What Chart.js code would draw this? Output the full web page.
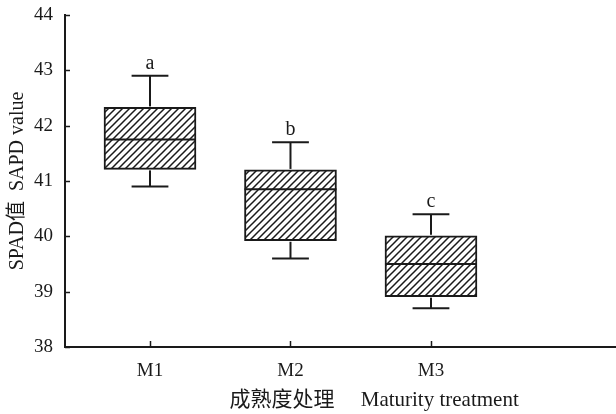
<!DOCTYPE html>
<html><head><meta charset="utf-8">
<script src="https://cdn.jsdelivr.net/npm/chart.js@4/dist/chart.umd.min.js"></script>
<style>html,body{margin:0;padding:0;background:#fff}#wrap{width:616px;height:414px;position:relative}</style>
</head><body><div id="wrap"><canvas id="c" width="616" height="414"></canvas></div>
<script>
const categories = ['M1', 'M2', 'M3'];
const whiskerMin = [40.9, 39.6, 38.7];
const q1 = [41.21, 39.92, 38.91];
const median = [41.75, 40.85, 39.5];
const q3 = [42.33, 41.2, 40.01];
const whiskerMax = [42.9, 41.7, 40.4];
const letters = ['a', 'b', 'c'];
const yTitle = 'SPAD值  SAPD value';
const xTitle = '成熟度处理\u3000 Maturity treatment';

const FONT = "'Liberation Serif', 'Noto Sans CJK SC', serif";
const INK = '#1a1a1a';

function hatch() {
  const s = 7;
  const c = document.createElement('canvas');
  c.width = s; c.height = s;
  const g = c.getContext('2d');
  g.fillStyle = '#fff'; g.fillRect(0, 0, s, s);
  g.strokeStyle = INK; g.lineWidth = 1.5;
  g.beginPath();
  g.moveTo(-1, s + 1); g.lineTo(s + 1, -1);
  g.moveTo(-1 - s, s + 1); g.lineTo(1, -1);
  g.moveTo(s - 1, s + 1); g.lineTo(2 * s + 1, -1);
  g.stroke();
  return g.createPattern(c, 'repeat');
}

const boxPlugin = {
  id: 'boxExtras',
  afterDatasetsDraw(chart) {
    const { ctx, scales: { x, y }, chartArea } = chart;
    const meta = chart.getDatasetMeta(0);
    ctx.save();
    ctx.strokeStyle = INK; ctx.lineWidth = 2; ctx.lineCap = 'butt';
    categories.forEach((c, i) => {
      const cx = x.getPixelForValue(i);
      const half = meta.data[i].width / 2;
      const cap = half * 0.4;
      const line = (x1, y1, x2, y2) => { ctx.beginPath(); ctx.moveTo(x1, y1); ctx.lineTo(x2, y2); ctx.stroke(); };
      line(cx - half, y.getPixelForValue(median[i]), cx + half, y.getPixelForValue(median[i]));
      line(cx, y.getPixelForValue(q3[i]) - 1, cx, y.getPixelForValue(whiskerMax[i]));
      line(cx, y.getPixelForValue(q1[i]) + 1, cx, y.getPixelForValue(whiskerMin[i]));
      line(cx - cap, y.getPixelForValue(whiskerMax[i]), cx + cap, y.getPixelForValue(whiskerMax[i]));
      line(cx - cap, y.getPixelForValue(whiskerMin[i]), cx + cap, y.getPixelForValue(whiskerMin[i]));
      ctx.fillStyle = INK; ctx.font = '20px ' + FONT;
      ctx.textAlign = 'center'; ctx.textBaseline = 'alphabetic';
      ctx.fillText(letters[i], cx, y.getPixelForValue(whiskerMax[i]) - 7);
    });
    // inward tick marks
    ctx.lineWidth = 1.5;
    y.ticks.forEach(t => {
      const py = Math.round(y.getPixelForValue(t.value)) + 0.5;
      ctx.beginPath(); ctx.moveTo(chartArea.left, py); ctx.lineTo(chartArea.left + 5, py); ctx.stroke();
    });
    x.ticks.forEach(t => {
      const px = Math.round(x.getPixelForValue(t.value)) + 0.5;
      ctx.beginPath(); ctx.moveTo(px, chartArea.bottom); ctx.lineTo(px, chartArea.bottom - 6); ctx.stroke();
    });
    // x title
    ctx.fillStyle = INK; ctx.font = '21px ' + FONT;
    ctx.textAlign = 'center'; ctx.textBaseline = 'middle';
    ctx.fillText(xTitle, chartArea.left + (chartArea.right - chartArea.left) * 0.561, 400);
    ctx.restore();
  }
};

new Chart(document.getElementById('c'), {
  type: 'bar',
  data: {
    datasets: [{
      data: categories.map((c, i) => ({ x: i, y: [q1[i], q3[i]] })),
      backgroundColor: hatch(),
      borderColor: INK,
      borderWidth: 2,
      borderSkipped: false,
      barThickness: 92
    }]
  },
  options: {
    responsive: false,
    animation: false,
    layout: { padding: { top: 15, right: 0, left: 0, bottom: 0 } },
    plugins: { legend: { display: false }, tooltip: { enabled: false } },
    scales: {
      x: {
        type: 'linear', min: -0.605, max: 3.317, offset: false,
        afterBuildTicks: s => { s.ticks = categories.map((c, i) => ({ value: i })); },
        afterFit: s => { s.height = 67; s.paddingLeft = 0; s.paddingRight = 0; },
        grid: { display: false, drawTicks: false, offset: false },
        border: { display: true, color: INK, width: 2 },
        ticks: { color: INK, font: { family: FONT, size: 19 }, padding: 13, callback: v => categories[v] }
      },
      y: {
        min: 38, max: 44,
        afterFit: s => { s.width = 65; s.paddingTop = 0; s.paddingBottom = 0; },
        grid: { display: false, drawTicks: false },
        border: { display: true, color: INK, width: 2 },
        ticks: { stepSize: 1, color: INK, font: { family: FONT, size: 19 }, padding: 12 },
        title: { display: true, text: yTitle, color: INK, font: { family: FONT, size: 20 }, padding: { top: 6, bottom: 0 } }
      }
    }
  },
  plugins: [boxPlugin]
});
</script>
</body></html>
